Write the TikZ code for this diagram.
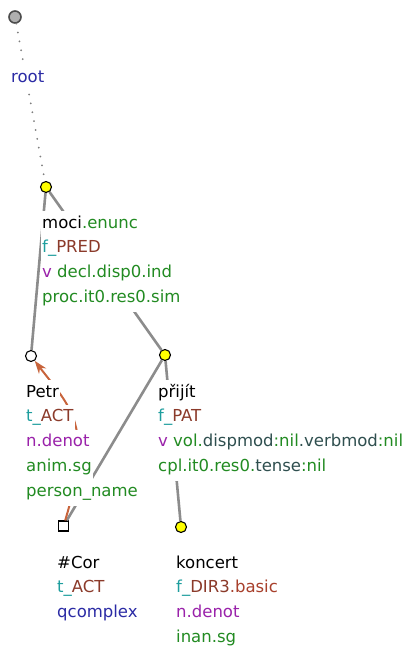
\documentclass[tikz,border=0pt]{standalone}
\usepackage{fontspec}
\setmainfont{DejaVu Sans}
\usetikzlibrary{arrows.meta,positioning}
\definecolor{Gram}{HTML}{228B22}
\definecolor{Dark}{HTML}{2F4F4F}
\definecolor{Cyan}{HTML}{1E9E9E}
\definecolor{Func}{HTML}{8B3A2A}
\definecolor{Sub}{HTML}{A8402C}
\definecolor{Purp}{HTML}{9A22AA}
\definecolor{Blue}{HTML}{2B2BA5}
\definecolor{Edge}{HTML}{8C8C8C}
\definecolor{Coref}{HTML}{C8643C}
\definecolor{Yel}{HTML}{FFFF00}

\begin{document}
\begin{tikzpicture}[x=1pt,y=-1pt,
    tnode/.style={circle,draw=black,line width=1.1pt,fill=Yel,minimum size=11pt,inner sep=0pt},
    lbl/.style={fill=white,inner xsep=1pt,inner ysep=4pt,text height=13pt,text depth=5pt,
      font=\fontsize{16.5}{20}\selectfont},
    nextrow/.style={lbl,below right=-1.5pt and 0pt of #1.south west},
    edge/.style={line width=2.6pt,draw=Edge},
    rootedge/.style={line width=2pt,draw=Edge!90!black,line cap=round,dash pattern=on 0pt off 9pt},
    coref/.style={-{Stealth[length=13pt,width=9pt]},line width=2pt,draw=Coref}
  ]
  \useasboundingbox (0,0) rectangle (409,646);
  % tree nodes
  \node[tnode,fill=Edge!70,draw=black!70,line width=1.6pt,minimum size=12pt] (root) at (15,17) {};
  \node[tnode] (moci) at (46,187) {};
  \node[tnode,fill=white] (petr) at (31,356) {};
  \node[tnode] (prijit) at (165,355) {};
  \node[tnode,rectangle,fill=white,minimum size=10pt] (cor) at (63.5,526) {};
  \node[tnode] (koncert) at (181,527) {};
  % edges
  \draw[rootedge] (root) -- (moci);
  \foreach \a/\b in {moci/petr,moci/prijit,prijit/cor,prijit/koncert}
    \draw[edge] (\a) -- (\b);
  \draw[coref] (cor) .. controls (94,425) and (71,408) .. (petr);
  % labels
  \node[lbl,anchor=base west] (root-a) at (10,82) {\textcolor{Blue}{root}};

  \node[lbl,anchor=base west] (moci-a) at (41,228) {moci\textcolor{Gram}{.enunc}};
  \node[nextrow=moci-a] (moci-b) {\textcolor{Cyan}{f\_}\textcolor{Func}{PRED}};
  \node[nextrow=moci-b] (moci-c) {\textcolor{Purp}{v} \textcolor{Gram}{decl.disp0.ind}};
  \node[nextrow=moci-c] (moci-d) {\textcolor{Gram}{proc.it0.res0.sim}};

  \node[lbl,anchor=base west] (petr-a) at (25,397) {Petr};
  \node[nextrow=petr-a] (petr-b) {\textcolor{Cyan}{t\_}\textcolor{Func}{ACT}};
  \node[nextrow=petr-b] (petr-c) {\textcolor{Purp}{n.denot}};
  \node[nextrow=petr-c] (petr-d) {\textcolor{Gram}{anim.sg}};
  \node[nextrow=petr-d] (petr-e) {\textcolor{Gram}{person\_name}};

  \node[lbl,anchor=base west] (prijit-a) at (157,397) {přijít};
  \node[nextrow=prijit-a] (prijit-b) {\textcolor{Cyan}{f\_}\textcolor{Func}{PAT}};
  \node[nextrow=prijit-b] (prijit-c) {\textcolor{Purp}{v} \textcolor{Gram}{vol.}\textcolor{Dark}{dispmod}\textcolor{Gram}{:nil}\textcolor{Dark}{.verbmod}\textcolor{Gram}{:nil}};
  \node[nextrow=prijit-c] (prijit-d) {\textcolor{Gram}{cpl.it0.res0.}\textcolor{Dark}{tense}\textcolor{Gram}{:nil}};

  \node[lbl,anchor=base west] (cor-a) at (56,568) {\#Cor};
  \node[nextrow=cor-a] (cor-b) {\textcolor{Cyan}{t\_}\textcolor{Func}{ACT}};
  \node[nextrow=cor-b] (cor-c) {\textcolor{Blue}{qcomplex}};

  \node[lbl,anchor=base west] (koncert-a) at (175,568) {koncert};
  \node[nextrow=koncert-a] (koncert-b) {\textcolor{Cyan}{f\_}\textcolor{Func}{DIR3}\textcolor{Sub}{.basic}};
  \node[nextrow=koncert-b] (koncert-c) {\textcolor{Purp}{n.denot}};
  \node[nextrow=koncert-c] (koncert-d) {\textcolor{Gram}{inan.sg}};
\end{tikzpicture}
\end{document}
